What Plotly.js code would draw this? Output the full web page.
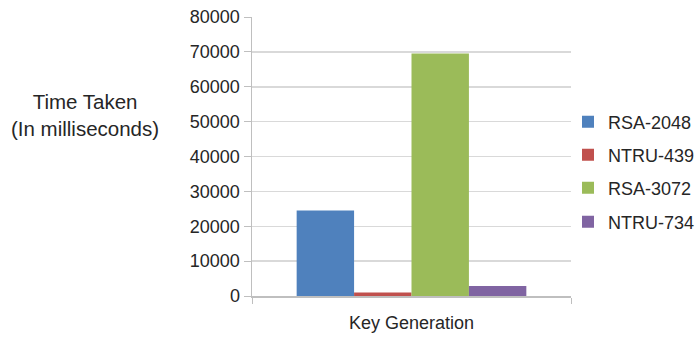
<!DOCTYPE html>
<html>
<head>
<meta charset="utf-8">
<script src="https://cdn.plot.ly/plotly-3.0.1.min.js"></script>
<style>html,body{margin:0;padding:0;background:#fff;}#chart{width:697px;height:339px;}</style>
</head>
<body>
<div id="chart"></div>
<script>
const categories = ["Key Generation"];
const seriesNames = ["RSA-2048", "NTRU-439", "RSA-3072", "NTRU-734"];
const rsa2048 = [24500];
const ntru439 = [1000];
const rsa3072 = [69500];
const ntru734 = [2900];
const yTickVals = [0, 10000, 20000, 30000, 40000, 50000, 60000, 70000, 80000];
const yTickText = ["0", "10000", "20000", "30000", "40000", "50000", "60000", "70000", "80000"];
const yTitleText = "Time Taken<br>(In milliseconds)";

const colors = ["#4F81BD", "#C0504D", "#9BBB59", "#8064A2"];
const seriesValues = [rsa2048, ntru439, rsa3072, ntru734];
const legendIds = ["legend", "legend2", "legend3", "legend4"];

const traces = seriesValues.map((vals, i) => ({
  type: "bar",
  name: seriesNames[i],
  x: categories,
  y: vals,
  marker: {color: colors[i], line: {width: 0}},
  legend: legendIds[i],
  showlegend: true,
  hoverinfo: "none"
}));

const fontFam = "Liberation Sans, Arial, sans-serif";
const W = 697, H = 339;
const legendBase = {
  xref: "container", yref: "container",
  xanchor: "left", yanchor: "middle",
  bgcolor: "rgba(0,0,0,0)",
  font: {family: fontFam, size: 18, color: "#262626"},
  borderwidth: 0, visible: true
};
const legendYs = [122, 155, 188, 222];
const plotTop = 17, plotBottom = 296, plotLeft = 252, plotRight = 571;
const ph = plotBottom - plotTop, pw = plotRight - plotLeft;

const layout = {
  width: W, height: H,
  showlegend: true,
  margin: {l: plotLeft, r: W - plotRight, t: plotTop, b: H - plotBottom, pad: 0, autoexpand: false},
  paper_bgcolor: "#ffffff", plot_bgcolor: "#ffffff",
  barmode: "group",
  bargap: 0.28,
  bargroupgap: 0,
  font: {family: fontFam, size: 18, color: "#262626"},
  xaxis: {
    type: "category",
    showgrid: false,
    showline: true, linecolor: "#BFBFBF", linewidth: 1.5,
    ticks: "outside", tickson: "boundaries", ticklen: 6, tickcolor: "#BFBFBF",
    ticklabelstandoff: 10,
    tickfont: {family: fontFam, size: 18, color: "#262626"},
    fixedrange: true
  },
  yaxis: {
    range: [0, 80000],
    tickvals: yTickVals, ticktext: yTickText,
    showgrid: true, gridcolor: "#D9D9D9", gridwidth: 1.5,
    zeroline: false,
    showline: true, linecolor: "#BFBFBF", linewidth: 1.5,
    ticks: "outside", ticklen: 7, tickcolor: "#BFBFBF",
    tickfont: {family: fontFam, size: 18, color: "#262626"},
    fixedrange: true
  },
  annotations: [{
    text: yTitleText,
    xref: "paper", yref: "paper",
    x: (85 - plotLeft) / pw, y: (plotBottom - 115) / ph,
    xanchor: "center", yanchor: "middle",
    showarrow: false, align: "center",
    font: {family: fontFam, size: 20.5, color: "#262626"}
  }]
};
legendIds.forEach((id, i) => {
  layout[id] = Object.assign({}, legendBase, {x: 568 / W, y: 1 - legendYs[i] / H});
});

Plotly.newPlot("chart", traces, layout, {staticPlot: true, displayModeBar: false});
</script>
</body>
</html>
